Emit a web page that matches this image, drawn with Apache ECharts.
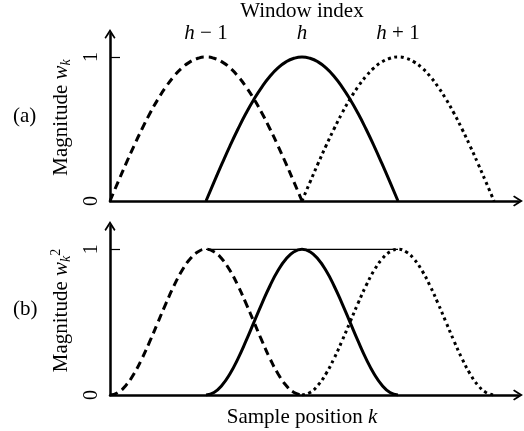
<!DOCTYPE html>
<html>
<head>
<meta charset="utf-8">
<script src="https://cdn.jsdelivr.net/npm/echarts@6/dist/echarts.min.js"></script>
<style>
  html, body { margin: 0; padding: 0; background: #fff; }
  #chart { width: 524px; height: 431px; }
</style>
</head>
<body>
<div id="chart"></div>
<script>
// sample offsets inside one window (window length 12)
var samplePos = [0, 0.5, 1, 1.5, 2, 2.5, 3, 3.5, 4, 4.5, 5, 5.5, 6,
                 6.5, 7, 7.5, 8, 8.5, 9, 9.5, 10, 10.5, 11, 11.5, 12];
// (a) window magnitude w_k
var magA = [0, 0.131, 0.259, 0.383, 0.5, 0.609, 0.707, 0.793, 0.866, 0.924, 0.966, 0.991, 1,
            0.991, 0.966, 0.924, 0.866, 0.793, 0.707, 0.609, 0.5, 0.383, 0.259, 0.131, 0];
// (b) squared window w_k^2
var magB = [0, 0.017, 0.067, 0.146, 0.25, 0.371, 0.5, 0.629, 0.75, 0.854, 0.933, 0.983, 1,
            0.983, 0.933, 0.854, 0.75, 0.629, 0.5, 0.371, 0.25, 0.146, 0.067, 0.017, 0];
var windowStart = [0, 6, 12];
var windowPeak = [6, 12, 18];
var windowLabels = ['{i|h} − 1', '{i|h}', '{i|h} + 1'];
var yTicks = [0, 1];
var sumLine = [1, 1];

var serif = 'Liberation Serif';
var chevron = 'path://M5,0 L10,8 L8.8,9 L5,3.2 L1.2,9 L0,8 Z';
var lineTypes = [[8, 5], 'solid', [3, 3.5]];

function buildWin(start, mag) {
  var out = [];
  for (var i = 0; i < samplePos.length; i++) {
    out.push([start + samplePos[i], mag[i]]);
  }
  return out;
}

var chart = echarts.init(document.getElementById('chart'));

function xBottom(gridIndex, name) {
  return {
    type: 'value', gridIndex: gridIndex, min: 0, max: 25.5,
    axisLine: { show: true, symbol: ['none', chevron], symbolSize: [11, 12],
      lineStyle: { color: '#000', width: 2.5 } },
    axisTick: { show: false }, axisLabel: { show: false }, splitLine: { show: false },
    name: name, nameLocation: 'middle', nameGap: 12,
    nameTextStyle: { fontFamily: serif, fontSize: 21, color: '#000', verticalAlign: 'top',
      padding: [0, 24, 0, 0],
      rich: { i: { fontFamily: serif, fontStyle: 'italic', fontSize: 21, color: '#000' } } }
  };
}

function yLeft(gridIndex, name) {
  return {
    type: 'value', gridIndex: gridIndex, min: 0, max: 1.16, interval: 1,
    axisLine: { show: true, symbol: ['none', chevron], symbolSize: [11, 12],
      lineStyle: { color: '#000', width: 2.5 } },
    axisTick: { show: true, inside: true, length: 10, customValues: [1],
      lineStyle: { color: '#000', width: 1.2 } },
    axisLabel: { rotate: 90, margin: 8, customValues: yTicks, fontFamily: serif, fontSize: 20, color: '#000' },
    splitLine: { show: false },
    name: name, nameLocation: 'middle', nameGap: 37, nameRotate: 90,
    nameTextStyle: { fontFamily: serif, fontSize: 21, color: '#000',
      rich: {
        i: { fontFamily: serif, fontStyle: 'italic', fontSize: 21, color: '#000' },
        sub: { fontFamily: serif, fontStyle: 'italic', fontSize: 14, color: '#000', padding: [10, 0, 0, 0] },
        sup: { fontFamily: serif, fontSize: 14, color: '#000', padding: [0, 0, 10, 0] }
      } }
  };
}

var series = [];
[magA, magB].forEach(function (mag, g) {
  for (var w = 0; w < windowStart.length; w++) {
    series.push({
      type: 'line', xAxisIndex: g === 0 ? 0 : 2, yAxisIndex: g,
      data: buildWin(windowStart[w], mag),
      showSymbol: false, smooth: true, silent: true,
      lineStyle: { color: '#000', width: 3, type: lineTypes[w], cap: 'butt' }
    });
  }
});
series.push({
  type: 'line', xAxisIndex: 2, yAxisIndex: 1,
  data: [[windowPeak[0], sumLine[0]], [windowPeak[2], sumLine[1]]],
  showSymbol: false, silent: true,
  lineStyle: { color: '#000', width: 1.2 }
});

chart.setOption({
  animation: false,
  grid: [
    { left: 110, top: 33, width: 408, height: 168 },
    { left: 110, top: 226, width: 408, height: 169 }
  ],
  xAxis: [
    xBottom(0, ''),
    {
      type: 'value', gridIndex: 0, position: 'top', min: 0, max: 25.5,
      axisLine: { show: false }, axisTick: { show: false }, splitLine: { show: false },
      axisLabel: {
        customValues: windowPeak, margin: -10,
        formatter: function (v) {
          var idx = windowPeak.indexOf(v);
          return idx >= 0 ? windowLabels[idx] : '';
        },
        fontFamily: serif, fontSize: 21, color: '#000',
        rich: { i: { fontFamily: serif, fontStyle: 'italic', fontSize: 21, color: '#000' } }
      },
      name: 'Window index', nameLocation: 'middle', nameGap: 11,
      nameTextStyle: { fontFamily: serif, fontSize: 21, color: '#000', padding: [0, 24, 0, 0] }
    },
    xBottom(1, 'Sample position {i|k}')
  ],
  yAxis: [
    yLeft(0, 'Magnitude {i|w}{sub|k}'),
    yLeft(1, 'Magnitude {i|w}{sub|k}{sup|2}')
  ],
  graphic: [
    { type: 'text', left: 13, top: 106, style: { text: '(a)', font: '21px "Liberation Serif"', fill: '#000' } },
    { type: 'text', left: 13, top: 299, style: { text: '(b)', font: '21px "Liberation Serif"', fill: '#000' } }
  ],
  series: series
});
</script>
</body>
</html>
